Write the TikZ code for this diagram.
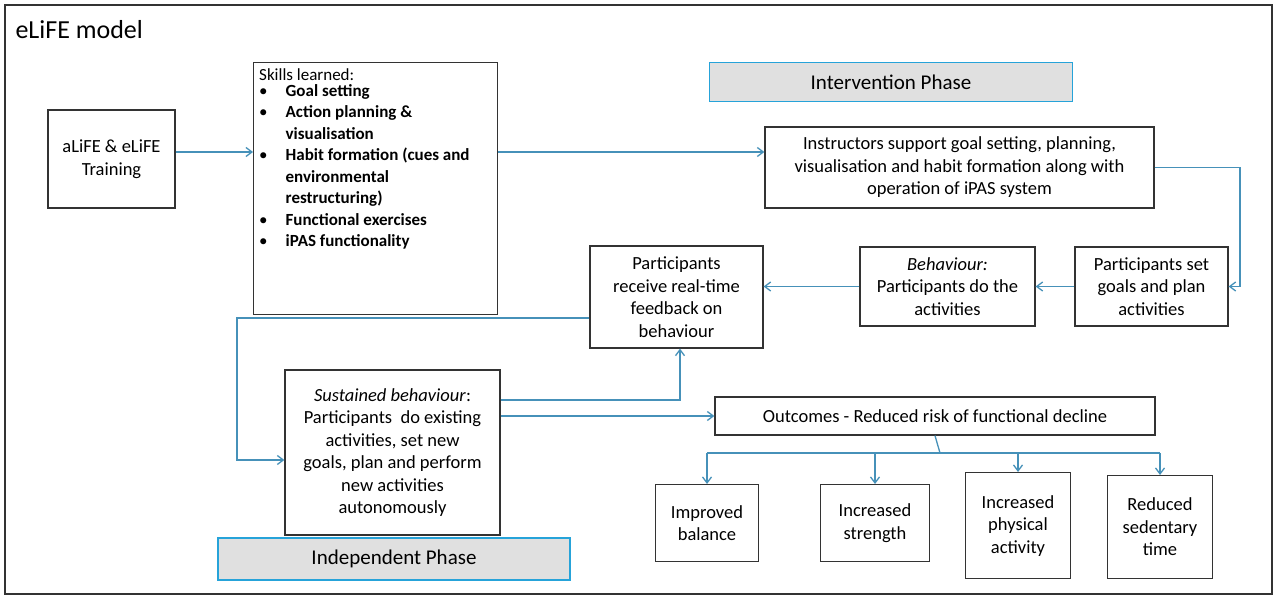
\documentclass[tikz,border=0pt]{standalone}
\usepackage{fontspec}
\setmainfont{Carlito}
\usetikzlibrary{arrows.meta}
\begin{document}
\begin{tikzpicture}[x=1pt,y=-1pt,
  box/.style={draw=black!80,line width=1.2pt,align=center,font=\fontsize{18.5}{22.5}\selectfont,inner sep=3pt},
  banner/.style={draw=blue!30!cyan!70!gray,line width=1.8pt,fill=black!12,font=\fontsize{21}{24}\selectfont},
  arr/.style={draw=blue!35!cyan!45!gray,line width=1.3pt,-{Straight Barb[length=6pt,width=9pt]}},
  ln/.style={draw=blue!35!cyan!45!gray,line width=1.3pt}]
\useasboundingbox (0,0) rectangle (1280,602);
\fill[white] (0,0) rectangle (1280,602);
\draw[black!80,line width=1.5pt] (5,5) rectangle (1272,594);
\node[anchor=west,font=\fontsize{26}{30}\selectfont] (title) at (12,30) {eLiFE model};

\node[box,minimum width=127pt,minimum height=98pt] (alife) at (111.5,159) {aLiFE \& eLiFE\\Training};
\node[box,minimum width=244pt,minimum height=252pt,anchor=north west] (skills) at (253,62) {};
\node[anchor=north west,align=left,inner sep=0pt,font=\fontsize{17}{21.5}\selectfont] (skillst) at (259,68) {Skills learned:\\
\begin{tabular}{@{}l@{\hspace{18pt}}l@{}}
\textbullet & \textbf{Goal setting}\\
\textbullet & \textbf{Action planning \&}\\
 & \textbf{visualisation}\\
\textbullet & \textbf{Habit formation (cues and}\\
 & \textbf{environmental}\\
 & \textbf{restructuring)}\\
\textbullet & \textbf{Functional exercises}\\
\textbullet & \textbf{iPAS functionality}
\end{tabular}};
\node[banner,minimum width=363pt,minimum height=39pt] (iphase) at (891,82) {Intervention Phase};
\node[box,minimum width=389pt,minimum height=81pt] (instr) at (959.5,167.5) {Instructors support goal setting, planning,\\visualisation and habit formation along with\\operation of iPAS system};
\node[box,minimum width=153pt,minimum height=79pt] (setg) at (1151.5,286.5) {Participants set\\goals and plan\\activities};
\node[box,minimum width=175pt,minimum height=79pt] (behav) at (947.5,286.5) {\textit{Behaviour:}\\Participants do the\\activities};
\node[box,minimum width=173pt,minimum height=102pt] (recv) at (676.5,297) {Participants\\receive real-time\\feedback on\\behaviour};
\node[box,minimum width=215pt,minimum height=165pt] (sust) at (392.5,452.5) {\textit{Sustained behaviour}:\\Participants \ do existing\\activities, set new\\goals, plan and perform\\new activities\\autonomously};
\node[box,minimum width=440pt,minimum height=38pt] (out) at (935,416) {Outcomes - Reduced risk of functional decline};
\node[box,minimum width=103pt,minimum height=77pt,anchor=north] (o1) at (707,484) {Improved\\balance};
\node[box,minimum width=109pt,minimum height=77pt,anchor=north] (o2) at (875,484) {Increased\\strength};
\node[box,minimum width=105pt,minimum height=106pt,anchor=north] (o3) at (1018,472) {Increased\\physical\\activity};
\node[box,minimum width=105pt,minimum height=103pt,anchor=north] (o4) at (1160,475) {Reduced\\sedentary\\time};
\node[banner,minimum width=352pt,minimum height=42pt] (dphase) at (394,559) {Independent Phase};

\draw[arr] (alife.east |- 0,152) -- (skills.west |- 0,152);
\draw[arr] (skills.east |- 0,152) -- (instr.west |- 0,152);
\draw[arr] (instr.east) -- (1240,167.5) -- (1240,286.5) -- (setg.east);
\draw[arr] (setg.west) -- (behav.east);
\draw[arr] (behav.west) -- (recv.east |- behav.west);
\draw[arr] (recv.west |- 0,318) -- (237,318) -- (237,460) -- (sust.west |- 0,460);
\draw[arr] (sust.east |- 0,400) -- (680,400) -- (recv.south -| 680,0);
\draw[arr] (sust.east |- out.west) -- (out.west);
\draw[ln] (out.south) -- (940,453);
\draw[ln] (707,453) -- (1160,453);
\draw[arr] (707,453) -- (o1.north);
\draw[arr] (875,453) -- (o2.north);
\draw[arr] (1018,453) -- (o3.north);
\draw[arr] (1160,453) -- (o4.north);
\end{tikzpicture}
\end{document}
